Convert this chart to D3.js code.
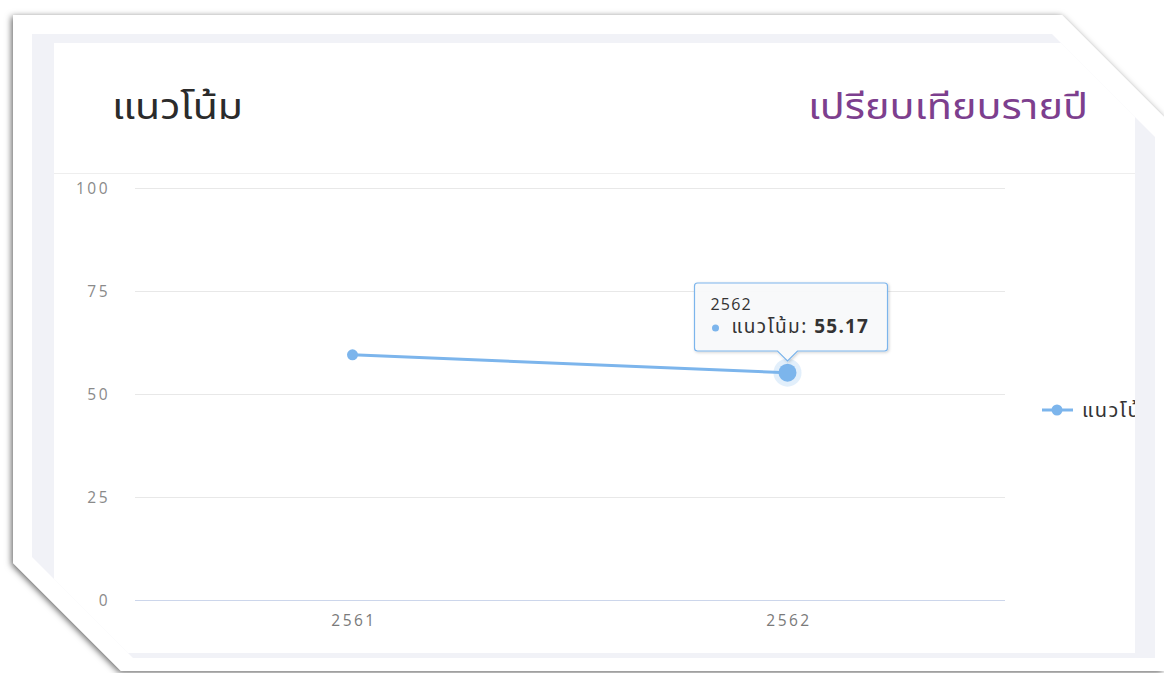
<!DOCTYPE html>
<html><head><meta charset="utf-8">
<script src="https://cdn.jsdelivr.net/npm/d3@7"></script>
<style>
html,body{margin:0;padding:0;background:#fff;}
svg{display:block;}
</style></head>
<body>
<svg id="c" width="1164" height="673"></svg>
<script>
const categories = ["2561", "2562"];
const values = [59.5, 55.17];
const yTicks = [0, 25, 50, 75, 100];
const seriesName = "แนวโน้ม";
const titleText = "แนวโน้ม";
const subTitleText = "เปรียบเทียบรายปี";
const hoverIndex = 1;

const svg = d3.select("#c");
const defs = svg.append("defs");
const f = defs.append("filter").attr("id","sh").attr("x","-5%").attr("y","-5%").attr("width","110%").attr("height","110%");
f.append("feDropShadow").attr("dx",-1.5).attr("dy",1.5).attr("stdDeviation",3).attr("flood-color","#000").attr("flood-opacity",0.6);
const tf = defs.append("filter").attr("id","tsh").attr("x","-20%").attr("y","-20%").attr("width","140%").attr("height","150%");
tf.append("feDropShadow").attr("dx",1).attr("dy",1).attr("stdDeviation",1.5).attr("flood-color","#000").attr("flood-opacity",0.2);

// paper
const paper = [[13,15],[1062,15],[1164,117],[1164,671],[121,671],[13,563]];
svg.append("polygon").attr("points", paper.map(p=>p.join(",")).join(" "))
  .attr("fill","#fff").attr("filter","url(#sh)");

defs.append("clipPath").attr("id","inner").append("polygon")
  .attr("points",[[32,34],[1052,34],[1155,137],[1155,658],[133,658],[32,557]].map(p=>p.join(",")).join(" "));
const inner = svg.append("g").attr("clip-path","url(#inner)");
inner.append("rect").attr("x",32).attr("y",34).attr("width",1123).attr("height",624).attr("fill","#f1f2f7");
inner.append("rect").attr("x",54).attr("y",43).attr("width",1081).attr("height",610).attr("fill","#fff");

defs.append("clipPath").attr("id","card").append("rect").attr("x",54).attr("y",43).attr("width",1081).attr("height",610);
const card = inner.append("g").attr("clip-path","url(#card)");

const thai = "'Noto Sans Thai','Noto Sans','DejaVu Sans',sans-serif";
card.append("text").attr("x",112).attr("y",119).text(titleText)
  .attr("font-family",thai).attr("font-size",36).attr("fill","#2b2b2b")
  .attr("textLength",131).attr("lengthAdjust","spacingAndGlyphs");
card.append("text").attr("x",808).attr("y",119).text(subTitleText)
  .attr("font-family",thai).attr("font-size",36).attr("fill","#7d3f8e")
  .attr("textLength",280).attr("lengthAdjust","spacingAndGlyphs");
card.append("line").attr("x1",54).attr("x2",1135).attr("y1",173.5).attr("y2",173.5).attr("stroke","#eeeeee");

const x = d3.scalePoint().domain(categories).range([135,1005]).padding(0.5);
const y = d3.scaleLinear().domain([0,100]).range([600,188]);

const grid = card.append("g");
grid.selectAll("line").data(yTicks.filter(t=>t>0)).join("line")
  .attr("x1",135).attr("x2",1005).attr("y1",d=>Math.round(y(d))+0.5).attr("y2",d=>Math.round(y(d))+0.5)
  .attr("stroke","#e8e8e8");
card.append("line").attr("x1",135).attr("x2",1005).attr("y1",y(0)+0.5).attr("y2",y(0)+0.5).attr("stroke","#ccd6eb");

const lbl = "'Open Sans','Lato',sans-serif";
const yAxis = d3.axisLeft(y).tickValues(yTicks).tickSize(0).tickPadding(0);
const ya = card.append("g").attr("transform","translate(110,0)").call(yAxis);
ya.select(".domain").remove();
ya.selectAll("text").attr("font-family",lbl).attr("font-size",15.5).attr("fill","#8a8a8a")
  .attr("dy","0.35em").attr("letter-spacing",2.5);

const xAxis = d3.axisBottom(x).tickSize(0).tickPadding(0);
const xa = card.append("g").attr("transform","translate(1,621)").call(xAxis);
xa.select(".domain").remove();
xa.selectAll("text").attr("font-family",lbl).attr("font-size",15.5).attr("fill","#7a7a7a")
  .attr("dy","0.35em").attr("letter-spacing",2.5);

const color = "#7cb5ec";
const data = categories.map((c,i)=>({c, v: values[i]}));
card.append("path").datum(data).attr("fill","none").attr("stroke",color).attr("stroke-width",3)
  .attr("d", d3.line().x(d=>x(d.c)).y(d=>y(d.v)));
card.selectAll("circle.m").data(data).join("circle").attr("class","m")
  .attr("cx",d=>x(d.c)).attr("cy",d=>y(d.v)).attr("r",(d,i)=>i===hoverIndex?0:5.5).attr("fill",color);
const hd = data[hoverIndex];
card.append("circle").attr("cx",x(hd.c)).attr("cy",y(hd.v)).attr("r",14).attr("fill",color).attr("fill-opacity",0.22);
card.append("circle").attr("cx",x(hd.c)).attr("cy",y(hd.v)).attr("r",9).attr("fill",color);

// legend
const lg = card.append("g").attr("transform","translate(1042,410)");
lg.append("line").attr("x1",0).attr("x2",31).attr("stroke",color).attr("stroke-width",3);
lg.append("circle").attr("cx",15).attr("r",5.5).attr("fill",color);
lg.append("text").attr("x",40).attr("dy","0.35em").text(seriesName).attr("font-family",thai)
  .attr("font-size",20).attr("fill","#333").attr("letter-spacing",1.5);

// tooltip
const tx = x(hd.c), ty = y(hd.v);
const bx = tx-93, by = 283, bw = 193, bh = 68;
const tt = card.append("g");
const p = `M${bx+3},${by} h${bw-6} q3,0 3,3 v${bh-6} q0,3 -3,3 H${tx+10} l-10,10 l-10,-10 H${bx+3} q-3,0 -3,-3 v${-(bh-6)} q0,-3 3,-3 Z`;
tt.append("path").attr("d",p).attr("fill","rgba(250,251,252,0.92)").attr("stroke",color).attr("stroke-width",1.2).attr("filter","url(#tsh)");
tt.append("text").attr("x",bx+16).attr("y",by+27).text(hd.c).attr("font-family",lbl).attr("font-size",16)
  .attr("fill","#333").attr("letter-spacing",1.2);
tt.append("circle").attr("cx",bx+21).attr("cy",by+45).attr("r",3.5).attr("fill",color);
const t2 = tt.append("text").attr("x",bx+37).attr("y",by+50).attr("font-family",thai).attr("font-size",19).attr("fill","#333");
t2.append("tspan").text(seriesName+": ").attr("letter-spacing",1.5);
t2.append("tspan").text(d3.format(".2f")(hd.v)).attr("font-weight","bold").attr("font-family",lbl).attr("letter-spacing",1.2);
</script>
</body></html>
